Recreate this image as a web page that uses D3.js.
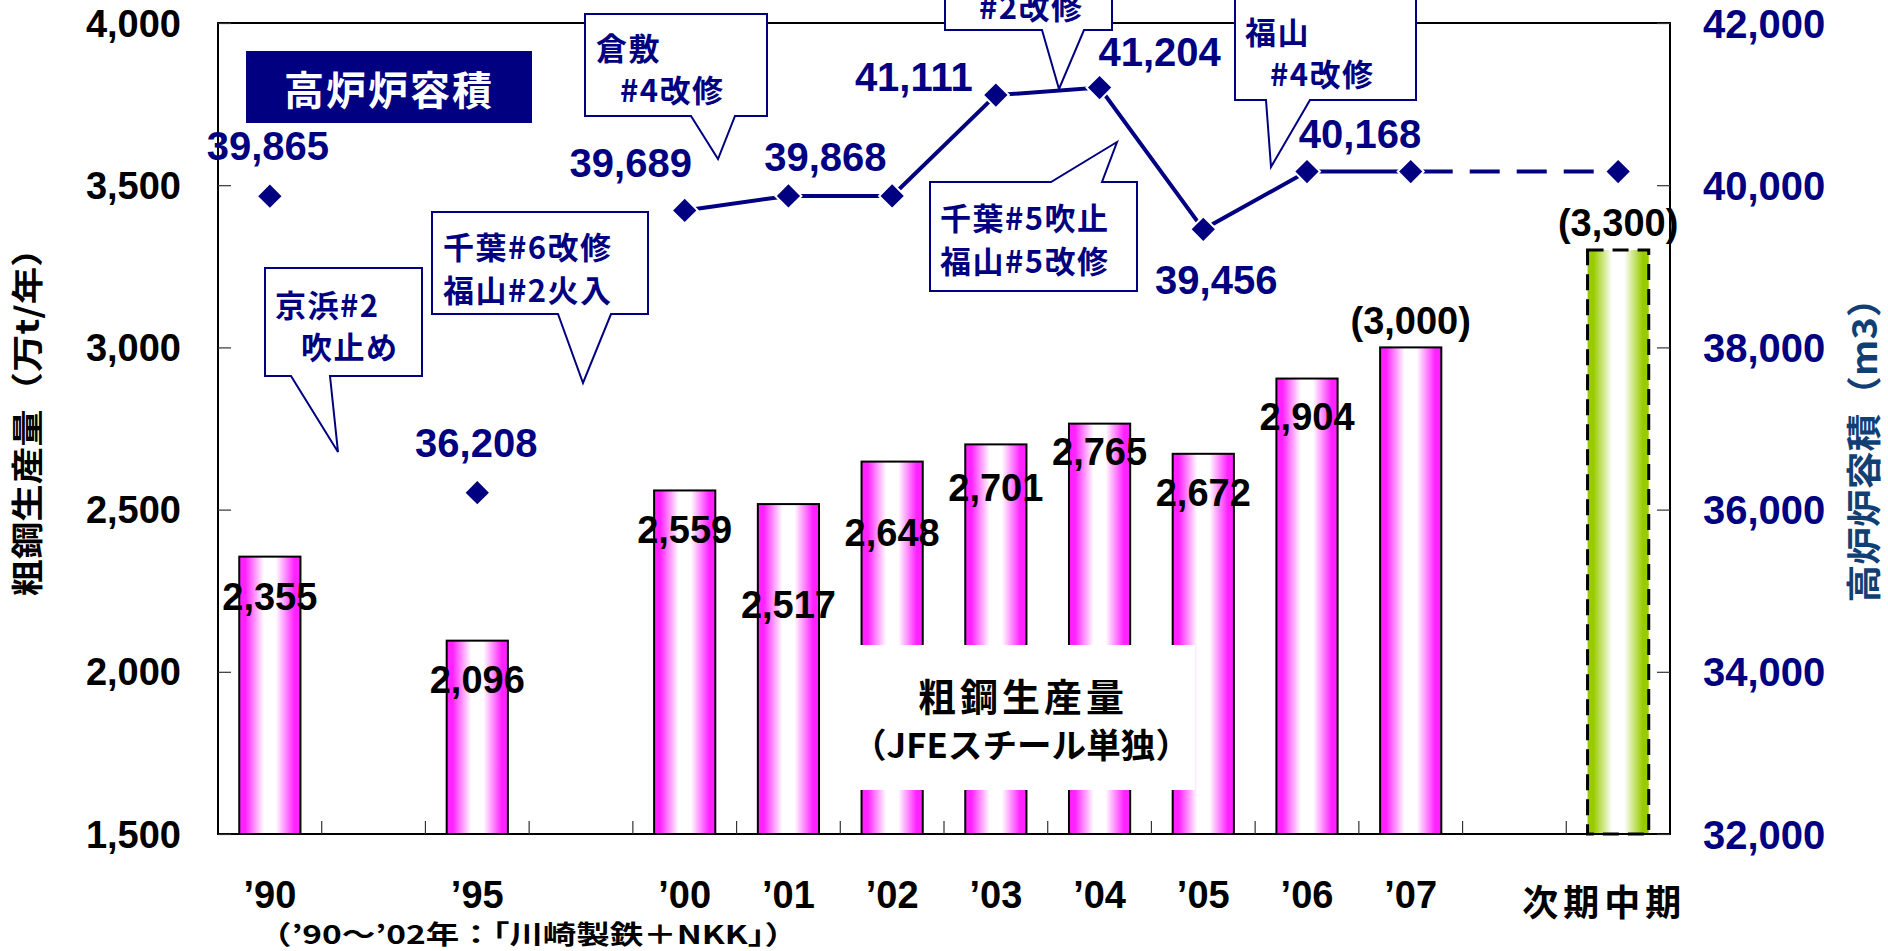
<!DOCTYPE html>
<html>
<head>
<meta charset="utf-8">
<script src="https://cdn.jsdelivr.net/npm/d3@7"></script>
<style>
  html, body { margin: 0; padding: 0; background: #fff; }
  svg { display: block; }
</style>
</head>
<body>
<svg id="chart" width="1888" height="951"></svg>
<script>
// ---------------- DATA ----------------
const slots = ["’90", "gap1", "’95", "gap2", "’00", "’01", "’02", "’03", "’04", "’05", "’06", "’07", "gap3", "次期中期"];
const categories = ["’90", "’95", "’00", "’01", "’02", "’03", "’04", "’05", "’06", "’07", "次期中期"];
const production = [2355, 2096, 2559, 2517, 2648, 2701, 2765, 2672, 2904, 3000, 3300];
const productionIsPlan = [false, false, false, false, false, false, false, false, false, true, true];
const volume = [39865, 36208, 39689, 39868, 39868, 41111, 41204, 39456, 40168, 40168, 40168];
const volumeLabelShown = [true, true, true, true, false, true, true, true, true, false, false];
const leftTicks = [1500, 2000, 2500, 3000, 3500, 4000];
const rightTicks = [32000, 34000, 36000, 38000, 40000, 42000];
const leftTitle = "粗鋼生産量（万t/年）";
const rightTitle = "高炉炉容積（m3）";
const chartTitle = "高炉炉容積";
const legendLines = ["粗鋼生産量", "（JFEスチール単独）"];
const footNote = "（’90～’02年：「川崎製鉄＋NKK」）";

// ---------------- LAYOUT (not data) ----------------
const M = { left: 218, right: 1670, top: 23, bottom: 834 };
const barLabelDy = [40, 39, 40, 101, 71, 44, 28, 39, 38, -26, -27];
const volLabelOffset = [[-2, -50], [-1, -50], [-54, -47], [37, -39], null, [-82, -18], [60, -36], [13, 51], [53, -38], null, null];
const callouts = [
  { box: [265, 268, 422, 376], side: "bottom", base: [291, 330], tip: [338, 452],
    lines: [["京浜#2", 275, 303], ["吹止め", 301, 345]] },
  { box: [432, 212, 648, 314], side: "bottom", base: [558, 611], tip: [583, 383],
    lines: [["千葉#6改修", 443, 245], ["福山#2火入", 443, 288]] },
  { box: [585, 14, 767, 116], side: "bottom", base: [691, 735], tip: [718, 159],
    lines: [["倉敷", 596, 46], ["#4改修", 620, 88]] },
  { box: [945, -60, 1112, 30], side: "bottom", base: [1042, 1084], tip: [1059, 89],
    lines: [["#2改修", 979, 5]] },
  { box: [930, 182, 1137, 291], side: "top", base: [1051, 1102], tip: [1117, 142],
    lines: [["千葉#5吹止", 940, 216], ["福山#5改修", 940, 259]] },
  { box: [1235, -2, 1416, 100], side: "bottom", base: [1266, 1310], tip: [1271, 167],
    lines: [["福山", 1245, 30], ["#4改修", 1270, 72]] }
];

const NAVY = "#000080";
const LATIN = "'Liberation Sans', Arial, sans-serif";
const CJK = "'Noto Sans CJK JP', 'Noto Sans', sans-serif";

const svg = d3.select("#chart");
const defs = svg.append("defs");

function grad(id, edge) {
  const g = defs.append("linearGradient").attr("id", id)
    .attr("x1", "0%").attr("x2", "100%").attr("y1", "0%").attr("y2", "0%");
  [[0, edge], [0.1, edge], [0.4, "#ffffff"], [0.6, "#ffffff"], [0.9, edge], [1, edge]]
    .forEach(([o, c]) => g.append("stop").attr("offset", o).attr("stop-color", c));
}
grad("gMag", "#ff22ff");
grad("gGreen", "#99cc00");

// ---------------- SCALES ----------------
const x = d3.scaleBand().domain(slots).range([M.left, M.right]).paddingInner(0.41).paddingOuter(0.205);
const yL = d3.scaleLinear().domain([1500, 4000]).range([M.bottom, M.top]);
const yR = d3.scaleLinear().domain([32000, 42000]).range([M.bottom, M.top]);
const cx = c => x(c) + x.bandwidth() / 2;
const fmt = d3.format(",");

// ---------------- BARS ----------------
const barData = categories.map((c, i) => ({ c, v: production[i], plan: productionIsPlan[i], i }));
svg.append("g").selectAll("rect").data(barData).join("rect")
  .attr("x", d => x(d.c))
  .attr("y", d => yL(d.v))
  .attr("width", x.bandwidth())
  .attr("height", d => yL(1500) - yL(d.v))
  .attr("fill", d => d.c === "次期中期" ? "url(#gGreen)" : "url(#gMag)")
  .attr("stroke", "#000")
  .attr("stroke-width", d => d.c === "次期中期" ? 3 : 2)
  .attr("stroke-dasharray", d => d.c === "次期中期" ? "16,9" : null);

// ---------------- LEGEND BOX (white, over bars) ----------------
svg.append("rect").attr("x", 860).attr("y", 645).attr("width", 335).attr("height", 145).attr("fill", "#fff");
svg.append("text").attr("x", 1023).attr("y", 694).attr("text-anchor", "middle").attr("dominant-baseline", "central")
  .attr("font-family", CJK).attr("font-weight", "bold").attr("font-size", 38).attr("letter-spacing", 4)
  .text(legendLines[0]);
svg.append("text").attr("x", 852).attr("y", 743).attr("dominant-baseline", "central")
  .attr("font-family", CJK).attr("font-weight", "bold").attr("font-size", 34)
  .attr("textLength", 338).attr("lengthAdjust", "spacingAndGlyphs")
  .text(legendLines[1]);

// ---------------- BAR LABELS ----------------
svg.append("g").selectAll("text").data(barData).join("text")
  .attr("x", d => cx(d.c))
  .attr("y", d => yL(d.v) + barLabelDy[d.i])
  .attr("text-anchor", "middle").attr("dominant-baseline", "central")
  .attr("font-family", LATIN).attr("font-weight", "bold").attr("font-size", 38)
  .attr("fill", "#000")
  .text(d => d.plan ? "(" + fmt(d.v) + ")" : fmt(d.v));

// ---------------- FRAME + AXES ----------------
svg.append("rect").attr("x", M.left).attr("y", M.top).attr("width", M.right - M.left).attr("height", M.bottom - M.top)
  .attr("fill", "none").attr("stroke", "#000").attr("stroke-width", 2);

const axL = svg.append("g").attr("transform", `translate(${M.left},0)`)
  .call(d3.axisLeft(yL).tickValues(leftTicks).tickFormat(fmt).tickSizeInner(-13).tickSizeOuter(0).tickPadding(37));
axL.select(".domain").remove();
axL.selectAll("line").attr("stroke", "#333").attr("stroke-width", 1.2);
axL.selectAll("text").attr("font-family", LATIN).attr("font-weight", "bold").attr("font-size", 38).attr("fill", "#000")
  .attr("dy", null).attr("dominant-baseline", "central");

const axR = svg.append("g").attr("transform", `translate(${M.right},0)`)
  .call(d3.axisRight(yR).tickValues(rightTicks).tickFormat(fmt).tickSizeInner(-13).tickSizeOuter(0).tickPadding(33));
axR.select(".domain").remove();
axR.selectAll("line").attr("stroke", "#333").attr("stroke-width", 1.2);
axR.selectAll("text").attr("font-family", LATIN).attr("font-weight", "bold").attr("font-size", 40).attr("fill", NAVY)
  .attr("dy", null).attr("dominant-baseline", "central");

// bottom ticks at slot boundaries
const halfGap = (x.step() - x.bandwidth()) / 2;
svg.append("g").selectAll("line").data(slots.slice(1)).join("line")
  .attr("x1", s => x(s) - halfGap).attr("x2", s => x(s) - halfGap)
  .attr("y1", M.bottom).attr("y2", M.bottom - 13)
  .attr("stroke", "#333").attr("stroke-width", 1.2);

// bottom labels
svg.append("g").selectAll("text").data(categories).join("text")
  .attr("x", c => c === "次期中期" ? cx(c) - 14 : cx(c))
  .attr("y", c => c === "次期中期" ? 900 : 895)
  .attr("text-anchor", "middle").attr("dominant-baseline", "central")
  .attr("font-family", c => c === "次期中期" ? CJK : LATIN)
  .attr("font-weight", "bold")
  .attr("font-size", c => c === "次期中期" ? 36 : 38)
  .attr("letter-spacing", c => c === "次期中期" ? 5 : 0)
  .text(c => c);

svg.append("text").attr("x", 258).attr("y", 932).attr("dominant-baseline", "central")
  .attr("font-family", CJK).attr("font-weight", "bold").attr("font-size", 26)
  .attr("textLength", 540).attr("lengthAdjust", "spacingAndGlyphs")
  .text(footNote);

// axis titles
svg.append("text").attr("transform", "translate(25,413) rotate(-90)")
  .attr("text-anchor", "middle").attr("dominant-baseline", "central")
  .attr("font-family", CJK).attr("font-weight", "bold").attr("font-size", 32)
  .attr("textLength", 367).attr("lengthAdjust", "spacingAndGlyphs")
  .text(leftTitle);
svg.append("text").attr("transform", "translate(1861,441) rotate(-90)")
  .attr("text-anchor", "middle").attr("dominant-baseline", "central")
  .attr("font-family", CJK).attr("font-weight", "bold").attr("font-size", 35)
  .attr("textLength", 323).attr("lengthAdjust", "spacingAndGlyphs")
  .attr("fill", "#123f73")
  .text(rightTitle);

// ---------------- VOLUME LINE ----------------
const volData = categories.map((c, i) => ({ c, v: volume[i], i }));
const line = d3.line().x(d => cx(d.c)).y(d => yR(d.v));
const solid = volData.slice(2, 10);
const dashed = volData.slice(9, 11);
svg.append("path").attr("d", line(solid)).attr("fill", "none").attr("stroke", NAVY).attr("stroke-width", 4);
svg.append("path").attr("d", line(dashed)).attr("fill", "none").attr("stroke", NAVY).attr("stroke-width", 4)
  .attr("stroke-dasharray", "30,17").attr("stroke-dashoffset", -12);

svg.append("g").selectAll("path").data(volData).join("path")
  .attr("d", d3.symbol(d3.symbolSquare, 340)())
  .attr("transform", d => `translate(${cx(d.c)},${yR(d.v)}) rotate(45)`)
  .attr("fill", NAVY).attr("stroke", "#fff").attr("stroke-width", 2);

svg.append("g").selectAll("text").data(volData.filter(d => volumeLabelShown[d.i])).join("text")
  .attr("x", d => cx(d.c) + volLabelOffset[d.i][0])
  .attr("y", d => yR(d.v) + volLabelOffset[d.i][1])
  .attr("text-anchor", "middle").attr("dominant-baseline", "central")
  .attr("font-family", LATIN).attr("font-weight", "bold").attr("font-size", 40)
  .attr("fill", NAVY)
  .text(d => fmt(d.v));

// ---------------- TITLE BOX ----------------
svg.append("rect").attr("x", 246).attr("y", 51).attr("width", 286).attr("height", 72).attr("fill", NAVY);
svg.append("text").attr("x", 389).attr("y", 88).attr("text-anchor", "middle").attr("dominant-baseline", "central")
  .attr("font-family", CJK).attr("font-weight", "bold").attr("font-size", 40).attr("letter-spacing", 2)
  .attr("fill", "#fff").text(chartTitle);

// ---------------- CALLOUTS ----------------
function calloutPath(o) {
  const [x0, y0, x1, y1] = o.box, [b0, b1] = o.base, [tx, ty] = o.tip;
  if (o.side === "bottom")
    return `M${x0},${y0}H${x1}V${y1}H${b1}L${tx},${ty}L${b0},${y1}H${x0}Z`;
  return `M${x0},${y0}H${b0}L${tx},${ty}L${b1},${y0}H${x1}V${y1}H${x0}Z`;
}
const cg = svg.append("g").selectAll("g").data(callouts).join("g");
cg.append("path").attr("d", calloutPath).attr("fill", "#fff").attr("stroke", NAVY).attr("stroke-width", 2);
cg.selectAll("text").data(o => o.lines).join("text")
  .attr("x", l => l[1]).attr("y", l => l[2]).attr("dominant-baseline", "central")
  .attr("font-family", CJK).attr("font-weight", "bold").attr("font-size", 31).attr("letter-spacing", 1.5)
  .attr("fill", NAVY).text(l => l[0]);
</script>
</body>
</html>
